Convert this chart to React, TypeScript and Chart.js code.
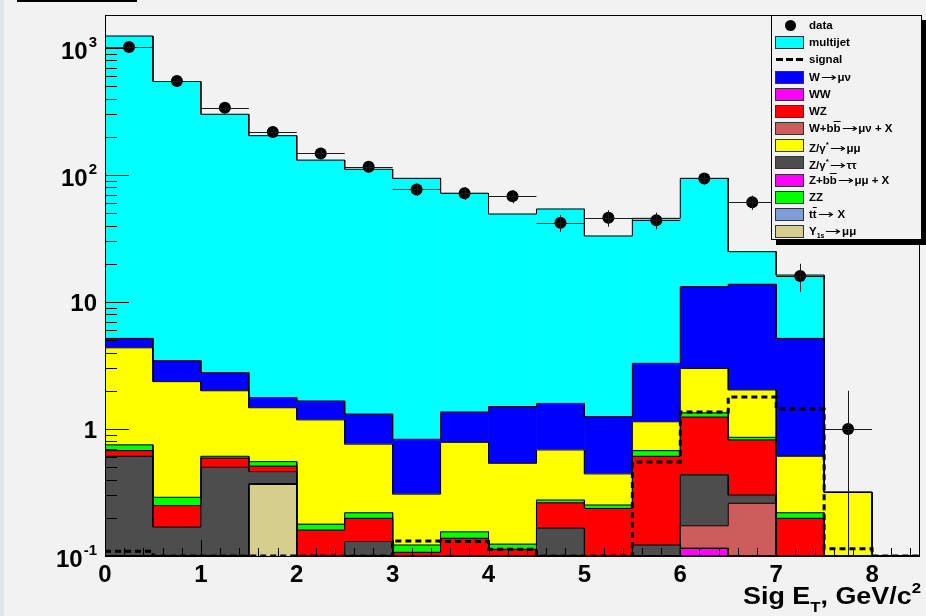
import React, { useEffect, useRef } from 'react';
import { Chart, registerables } from 'chart.js';

Chart.register(...registerables);

// ---------- axis ranges ----------
const Y_MIN = 0.1;
const Y_MAX = 1820;
const X_MIN = 0;
const X_MAX = 8.5;

// ---------- binning (Sig E_T, GeV/c^2) ----------
const binEdges = [0, 0.5, 1, 1.5, 2, 2.5, 3, 3.5, 4, 4.5, 5, 5.5, 6, 6.5, 7, 7.5, 8, 8.5];
const binCenters = [0.25, 0.75, 1.25, 1.75, 2.25, 2.75, 3.25, 3.75, 4.25, 4.75, 5.25, 5.75, 6.25, 6.75, 7.25, 7.75, 8.25];

// ---------- observed data (events per bin) ----------
const dataCounts = [1020, 550, 339, 218, 148, 116, 77, 72, 68, 42, 46, 44, 94, 61, 16, 1, 0];

// ---------- signal (dashed, not stacked) ----------
const signalLevel = [0.109, 0.1, 0.1, 0.1, 0.1, 0.1, 0.131, 0.13, 0.113, 0.1, 0.1, 0.55, 1.36, 1.79, 1.44, 0.114, 0.1];

// ---------- stacked background levels (cumulative top of each layer, bottom -> top) ----------
const upsilonTop = [0.1, 0.1, 0.1, 0.369, 0.1, 0.1, 0.1, 0.1, 0.1, 0.1, 0.1, 0.1, 0.1, 0.1, 0.1, 0.1, 0.1];
const ttbarTop = [0.1, 0.1, 0.1, 0.369, 0.1, 0.1, 0.1, 0.1, 0.1, 0.1, 0.1, 0.1, 0.1, 0.1, 0.1, 0.1, 0.1];
const wwTop = [0.1, 0.1, 0.1, 0.369, 0.1, 0.1, 0.1, 0.1, 0.1, 0.1, 0.1, 0.1, 0.115, 0.1, 0.1, 0.1, 0.1];
const zbbTop = [0.1, 0.1, 0.1, 0.369, 0.1, 0.1, 0.1, 0.1, 0.1, 0.1, 0.1, 0.1, 0.115, 0.1, 0.1, 0.1, 0.1];
const wbbTop = [0.1, 0.1, 0.1, 0.369, 0.1, 0.1, 0.1, 0.1, 0.1, 0.1, 0.1, 0.1, 0.173, 0.26, 0.1, 0.1, 0.1];
const ztautauTop = [0.61, 0.169, 0.5, 0.462, 0.1, 0.13, 0.1, 0.1, 0.1, 0.166, 0.1, 0.122, 0.435, 0.302, 0.1, 0.1, 0.1];
const wzTop = [0.675, 0.249, 0.59, 0.51, 0.16, 0.198, 0.107, 0.138, 0.113, 0.262, 0.237, 0.61, 1.24, 0.82, 0.198, 0.1, 0.1];
const zzTop = [0.75, 0.29, 0.61, 0.553, 0.178, 0.219, 0.122, 0.155, 0.124, 0.276, 0.252, 0.675, 1.34, 0.86, 0.219, 0.1, 0.1];
const zmumuTop = [4.36, 2.36, 2.0, 1.47, 1.18, 0.76, 0.307, 0.785, 0.537, 0.684, 0.443, 1.14, 3.0, 2.03, 0.61, 0.318, 0.1];
const wmunuTop = [5.17, 3.45, 2.77, 1.77, 1.66, 1.31, 0.83, 1.36, 1.5, 1.59, 1.25, 3.29, 13.2, 13.8, 5.17, 0.318, 0.1];
const multijetTop = [1243, 545, 301, 204, 131, 111, 94.2, 71.9, 49.3, 54, 33.1, 45.6, 94.2, 24.9, 16.3, 0.318, 0.1];

const stackLayers = [
  { name: 'Upsilon', top: upsilonTop, color: '#d5ce8c' },
  { name: 'ttbar', top: ttbarTop, color: '#7f9dd6' },
  { name: 'WW', top: wwTop, color: '#ff00ff' },
  { name: 'Zbb', top: zbbTop, color: '#ff00ff' },
  { name: 'Wbb', top: wbbTop, color: '#cd5c5c' },
  { name: 'Ztautau', top: ztautauTop, color: '#4d4d4d' },
  { name: 'WZ', top: wzTop, color: '#ff0000' },
  { name: 'ZZ', top: zzTop, color: '#00ff00' },
  { name: 'Zmumu', top: zmumuTop, color: '#ffff00' },
  { name: 'Wmunu', top: wmunuTop, color: '#0000ff' },
  { name: 'multijet', top: multijetTop, color: '#00ffff' },
];

// ---------- tick labels ----------
const yMajorTicks = [0.1, 1, 10, 100, 1000];
const yTickLabels: [string, string][] = [['10', '-1'], ['1', ''], ['10', ''], ['10', '2'], ['10', '3']];
const xMajorTicks = [0, 1, 2, 3, 4, 5, 6, 7, 8];
const xTickLabels = ['0', '1', '2', '3', '4', '5', '6', '7', '8'];
const xMinorTicks = [0.2, 0.4, 0.6, 0.8, 1.2, 1.4, 1.6, 1.8, 2.2, 2.4, 2.6, 2.8, 3.2, 3.4, 3.6, 3.8, 4.2, 4.4, 4.6, 4.8, 5.2, 5.4, 5.6, 5.8, 6.2, 6.4, 6.6, 6.8, 7.2, 7.4, 7.6, 7.8, 8.2, 8.4];
const yMinorMultipliers = [2, 3, 4, 5, 6, 7, 8, 9];

const FONT = '"Liberation Sans", Arial, Helvetica, sans-serif';
const BG = '#f2f2f2';

const OB = (s: string) => <span style={{ textDecoration: 'overline' }}>{s}</span>;
const AR = () => (
  <span style={{ display: 'inline-block', transform: 'scaleX(1.7)', margin: '0 4px', fontFamily: '"DejaVu Sans", sans-serif', fontWeight: 'normal' }}>→</span>
);

const legendItems: { kind: string; color?: string; label: React.ReactNode }[] = [
  { kind: 'marker', label: 'data' },
  { kind: 'box', color: '#00ffff', label: 'multijet' },
  { kind: 'dash', label: 'signal' },
  { kind: 'box', color: '#0000ff', label: <>W<AR />μν</> },
  { kind: 'box', color: '#ff00ff', label: 'WW' },
  { kind: 'box', color: '#ff0000', label: 'WZ' },
  { kind: 'box', color: '#cd5c5c', label: <>W+b{OB('b')}<AR />μν + X</> },
  { kind: 'box', color: '#ffff00', label: <>Z/γ<sup style={{ fontSize: 8 }}>*</sup><AR />μμ</> },
  { kind: 'box', color: '#4d4d4d', label: <>Z/γ<sup style={{ fontSize: 8 }}>*</sup><AR />ττ</> },
  { kind: 'box', color: '#ff00ff', label: <>Z+b{OB('b')}<AR />μμ + X</> },
  { kind: 'box', color: '#00ff00', label: 'ZZ' },
  { kind: 'box', color: '#7f9dd6', label: <>t{OB('t')}<AR /> X</> },
  { kind: 'box', color: '#d5ce8c', label: <>Υ<sub style={{ fontSize: 7 }}>1s</sub><AR />μμ</> },
];

function stepPoints(levels: number[], fromFloor: boolean) {
  const pts: { x: number; y: number }[] = [];
  if (fromFloor) pts.push({ x: binEdges[0], y: Y_MIN });
  levels.forEach((v, i) => {
    const y = Math.max(v, Y_MIN);
    pts.push({ x: binEdges[i], y });
    pts.push({ x: binEdges[i + 1], y });
  });
  if (fromFloor) pts.push({ x: binEdges[binEdges.length - 1], y: Y_MIN });
  return pts;
}

const rootAxesPlugin = {
  id: 'rootAxes',
  afterDatasetsDraw(chart: any) {
    const { ctx, chartArea: a, scales } = chart;
    const xs = scales.x;
    const ys = scales.y;
    ctx.save();
    ctx.beginPath();
    ctx.rect(a.left, a.top, a.right - a.left, a.bottom - a.top);
    ctx.clip();
    // error bars of data
    ctx.strokeStyle = '#1a1a1a';
    ctx.lineWidth = 1;
    binCenters.forEach((c, i) => {
      const n = dataCounts[i];
      if (n <= 0) return;
      const e = Math.sqrt(n);
      const px = Math.round(xs.getPixelForValue(c)) + 0.5;
      const py = Math.round(ys.getPixelForValue(n)) + 0.5;
      ctx.beginPath();
      ctx.moveTo(xs.getPixelForValue(binEdges[i]), py);
      ctx.lineTo(xs.getPixelForValue(binEdges[i + 1]), py);
      const lowPix = n - e > Y_MIN ? ys.getPixelForValue(n - e) : a.bottom;
      ctx.moveTo(px, ys.getPixelForValue(n + e));
      ctx.lineTo(px, lowPix);
      ctx.stroke();
    });
    // ticks (inside the frame, ROOT style)
    ctx.strokeStyle = '#000';
    ctx.lineWidth = 1;
    ctx.beginPath();
    const yTickLen = 24;
    const xTickLen = 16;
    yMajorTicks.forEach((v) => {
      const p = Math.round(ys.getPixelForValue(v)) + 0.5;
      ctx.moveTo(a.left, p);
      ctx.lineTo(a.left + yTickLen, p);
      yMinorMultipliers.forEach((m) => {
        const mv = v * m;
        if (mv >= Y_MAX) return;
        const mp = Math.round(ys.getPixelForValue(mv)) + 0.5;
        ctx.moveTo(a.left, mp);
        ctx.lineTo(a.left + yTickLen / 2, mp);
      });
    });
    xMajorTicks.forEach((v) => {
      const p = Math.round(xs.getPixelForValue(v)) + 0.5;
      ctx.moveTo(p, a.bottom);
      ctx.lineTo(p, a.bottom - xTickLen);
    });
    xMinorTicks.forEach((v) => {
      const p = Math.round(xs.getPixelForValue(v)) + 0.5;
      ctx.moveTo(p, a.bottom);
      ctx.lineTo(p, a.bottom - xTickLen / 2);
    });
    ctx.stroke();
    ctx.restore();

    // frame
    ctx.save();
    ctx.strokeStyle = '#000';
    ctx.lineWidth = 1;
    ctx.strokeRect(a.left + 0.5, a.top + 0.5, a.right - a.left - 1, a.bottom - a.top);
    ctx.restore();
  },
  afterDraw(chart: any) {
    const { ctx, chartArea: a, scales } = chart;
    const xs = scales.x;
    const ys = scales.y;
    ctx.save();
    ctx.fillStyle = '#000';
    const big = `bold 24px ${FONT}`;
    const small = `bold 15px ${FONT}`;
    // y labels
    const right = a.left - 8;
    yMajorTicks.forEach((v, i) => {
      const [base, sup] = yTickLabels[i];
      const p = ys.getPixelForValue(v);
      const baseline = p + 9 + (sup ? 2 : 0);
      ctx.textBaseline = 'alphabetic';
      ctx.textAlign = 'right';
      let supW = 0;
      if (sup) {
        ctx.font = small;
        supW = ctx.measureText(sup).width + 1;
        ctx.fillText(sup, right, baseline - 12);
      }
      ctx.font = big;
      ctx.fillText(base, right - supW, baseline);
    });
    // x labels
    ctx.font = big;
    ctx.textAlign = 'center';
    xMajorTicks.forEach((v, i) => {
      ctx.fillText(xTickLabels[i], xs.getPixelForValue(v), a.bottom + 26);
    });
    // axis title: Sig E_T, GeV/c^2
    const segs = [
      { t: 'Sig E', f: big, dy: 0 },
      { t: 'T', f: small, dy: 8 },
      { t: ', GeV/c', f: big, dy: 0 },
      { t: '2', f: small, dy: -11 },
    ];
    let total = 0;
    const widths = segs.map((s) => {
      ctx.font = s.f;
      const w = ctx.measureText(s.t).width;
      total += w;
      return w;
    });
    const startX = 743;
    const endX = a.right + 1;
    const sc = (endX - startX) / total;
    ctx.translate(startX, 0);
    ctx.scale(sc, 1);
    ctx.textAlign = 'left';
    let xx = 0;
    segs.forEach((s, i) => {
      ctx.font = s.f;
      ctx.fillText(s.t, xx, 604 + s.dy);
      xx += widths[i];
    });
    ctx.restore();
  },
};

export default function App() {
  const canvasRef = useRef<HTMLCanvasElement | null>(null);

  useEffect(() => {
    if (!canvasRef.current) return;
    const datasets: any[] = [];
    datasets.push({
      type: 'line',
      label: 'data',
      data: binCenters.map((x, i) => ({ x, y: dataCounts[i] })).filter((p) => p.y > 0),
      showLine: false,
      pointRadius: 6,
      pointHoverRadius: 6,
      pointBackgroundColor: '#000',
      pointBorderWidth: 0,
      borderWidth: 0,
      order: 0,
    });
    datasets.push({
      type: 'line',
      label: 'signal',
      data: stepPoints(signalLevel, false),
      borderColor: '#000',
      borderWidth: 3,
      borderDash: [6, 4],
      pointRadius: 0,
      pointHitRadius: 0,
      fill: false,
      tension: 0,
      order: 1,
    });
    stackLayers.forEach((layer, k) => {
      const below = k === 0 ? binCenters.map(() => Y_MIN) : stackLayers[k - 1].top;
      datasets.push({
        type: 'line',
        label: layer.name + ' outline',
        data: stepPoints(layer.top, true),
        borderColor: '#000',
        borderWidth: 1,
        pointRadius: 0,
        pointHitRadius: 0,
        fill: false,
        tension: 0,
        order: 2,
      });
      datasets.push({
        type: 'bar',
        label: layer.name,
        data: binCenters
          .map((x, i) => ({ x, y: [Math.max(below[i], Y_MIN), layer.top[i]] }))
          .filter((d) => d.y[1] > d.y[0]),
        backgroundColor: layer.color,
        borderWidth: 0,
        grouped: false,
        barPercentage: 1,
        categoryPercentage: 1,
        order: 3,
      });
    });

    const chart = new Chart(canvasRef.current, {
      type: 'line',
      data: { datasets },
      options: {
        animation: false,
        responsive: false,
        devicePixelRatio: 1,
        events: [],
        layout: { padding: { left: 105, top: 15, right: 5, bottom: 60 } },
        plugins: { legend: { display: false }, tooltip: { enabled: false }, title: { display: false } },
        scales: {
          x: {
            type: 'linear',
            display: false,
            min: X_MIN,
            max: X_MAX,
            offset: false,
            ticks: { stepSize: 0.5 },
          },
          y: {
            type: 'logarithmic',
            display: false,
            min: Y_MIN,
            max: Y_MAX,
          },
        },
      },
      plugins: [rootAxesPlugin],
    } as any);
    return () => chart.destroy();
  }, []);

  const rowTop = (i: number) => 9 + i * 17.17;

  return (
    <div style={{ position: 'fixed', left: 0, top: 0, width: 926, height: 616, background: BG, overflow: 'hidden', fontFamily: FONT }}>
      <canvas ref={canvasRef} width={926} height={616} style={{ display: 'block', position: 'absolute', left: 0, top: 0 }} />
      <div style={{ position: 'absolute', left: 0, top: 0, width: 4, height: 616, background: '#e2e5ea' }} />
      <div style={{ position: 'absolute', left: 17, top: 0, width: 120, height: 2, background: '#000' }} />
      <div
        style={{
          position: 'absolute',
          left: 771,
          top: 15,
          width: 149,
          height: 223,
          border: '1px solid #000',
          background: BG,
          boxShadow: '5px 5px 0 #000',
        }}
      >
        {legendItems.map((it, i) => (
          <div key={i} style={{ position: 'absolute', left: 0, top: rowTop(i) - 8, height: 16, width: 149 }}>
            {it.kind === 'box' && (
              <div style={{ position: 'absolute', left: 3, top: 2, width: 27, height: 11, background: it.color, border: '1px solid #333', boxSizing: 'content-box' }} />
            )}
            {it.kind === 'marker' && (
              <div style={{ position: 'absolute', left: 13, top: 3, width: 11, height: 11, borderRadius: '50%', background: '#000' }} />
            )}
            {it.kind === 'dash' && (
              <div style={{ position: 'absolute', left: 4, top: 7, width: 28, height: 3, background: 'repeating-linear-gradient(90deg, #000 0 7px, transparent 7px 10px)' }} />
            )}
            <div
              style={{
                position: 'absolute',
                left: 37,
                top: 0,
                lineHeight: '16px',
                fontSize: 11.5,
                fontWeight: 'bold',
                color: '#000',
                whiteSpace: 'nowrap',
              }}
            >
              {it.label}
            </div>
          </div>
        ))}
      </div>
    </div>
  );
}
